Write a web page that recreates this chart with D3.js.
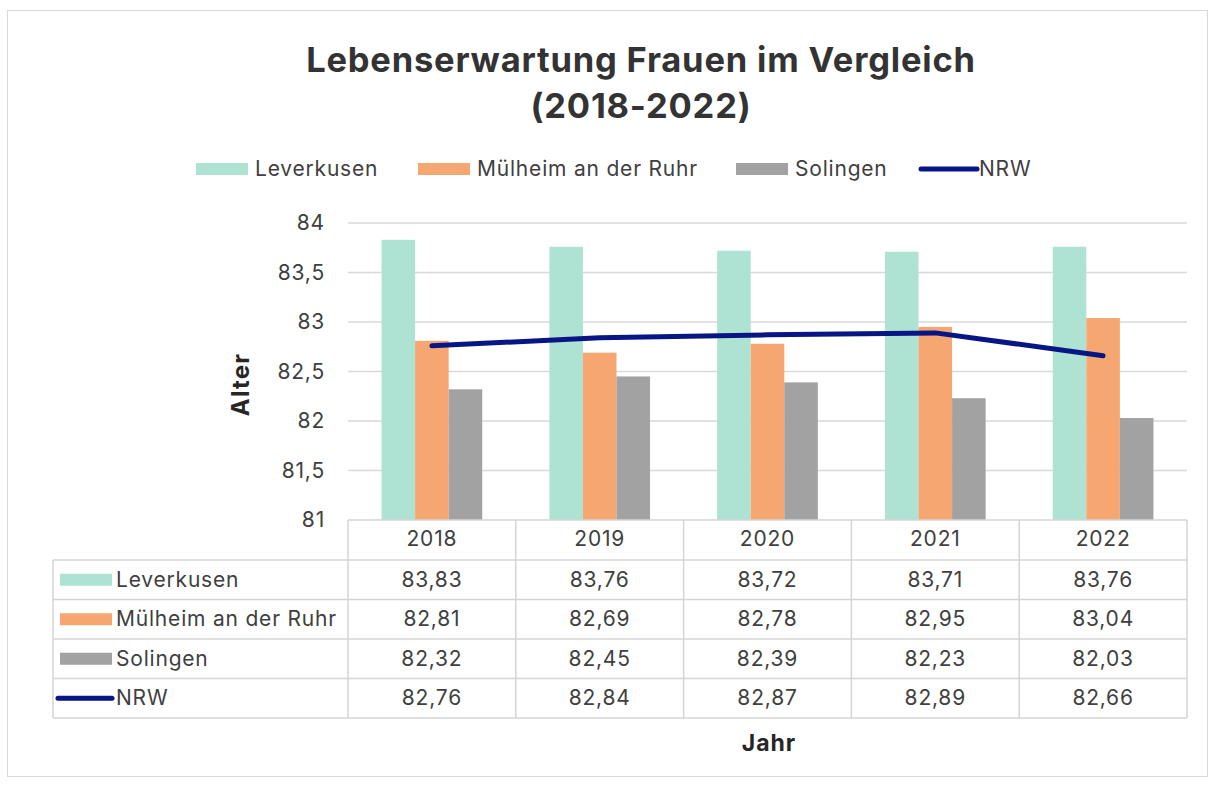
<!DOCTYPE html>
<html>
<head>
<meta charset="utf-8">
<script src="https://cdn.jsdelivr.net/npm/d3@7"></script>
<style>
  body { margin: 0; background: #fff; }
  svg text { font-family: "Inter", "Open Sans", sans-serif; letter-spacing: 0.8px; }
</style>
</head>
<body>
<div id="chart"></div>
<script>
// data
const years = ['2018', '2019', '2020', '2021', '2022']
const leverkusen = [83.83, 83.76, 83.72, 83.71, 83.76]
const muelheim = [82.81, 82.69, 82.78, 82.95, 83.04]
const solingen = [82.32, 82.45, 82.39, 82.23, 82.03]
const nrw = [82.76, 82.84, 82.87, 82.89, 82.66]
const yTicks = [81, 81.5, 82, 82.5, 83, 83.5, 84]

const barSeries = [
  { name: 'Leverkusen', values: leverkusen, color: '#aee3d3' },
  { name: 'Mülheim an der Ruhr', values: muelheim, color: '#f5a671' },
  { name: 'Solingen', values: solingen, color: '#a2a2a2' }
]
const lineSeries = { name: 'NRW', values: nrw, color: '#071585' }

const W = 1212, H = 787
const plot = { left: 348, right: 1187, top: 223, bottom: 520 }
const rowH = 39.5
const fs = 21 // body font size

const fmt = v => d3.format('.2f')(v).replace('.', ',')
const fmtTick = v => String(v).replace('.', ',')

const svg = d3.select('#chart').append('svg')
  .attr('width', W).attr('height', H)

// outer frame
svg.append('rect')
  .attr('x', 7.5).attr('y', 10.5)
  .attr('width', 1200).attr('height', 766)
  .attr('fill', '#fff').attr('stroke', '#d9d9d9')

// title
const title = svg.append('g')
  .attr('font-size', 34.5).attr('font-weight', 700).attr('fill', '#333')
  .attr('text-anchor', 'middle').style('letter-spacing', '1.6px')
title.append('text').attr('x', 641).attr('y', 72).text('Lebenserwartung Frauen im Vergleich')
title.append('text').attr('x', 641).attr('y', 118).text('(2018-2022)')

// scales
const x0 = d3.scaleBand().domain(years).range([plot.left, plot.right])
const bw = x0.bandwidth()
const x1 = d3.scaleBand().domain(barSeries.map(s => s.name))
  .range([bw * 0.2, bw * 0.8])
const y = d3.scaleLinear().domain([81, 84]).range([plot.bottom, plot.top])

// gridlines
svg.append('g')
  .selectAll('line').data(yTicks.slice(1)).join('line')
  .attr('x1', plot.left).attr('x2', plot.right)
  .attr('y1', d => y(d)).attr('y2', d => y(d))
  .attr('stroke', '#d9d9d9').attr('stroke-width', 1.5)

// y axis labels
const yAxis = svg.append('g')
  .attr('transform', `translate(${plot.left - 18},0)`)
  .call(d3.axisLeft(y).tickValues(yTicks).tickFormat(fmtTick).tickSize(0).tickPadding(5))
yAxis.select('.domain').remove()
yAxis.selectAll('text')
  .attr('font-size', fs).attr('fill', '#404040')
  .style('font-family', '"Inter", sans-serif')

svg.append('text')
  .attr('transform', `translate(249,${(plot.top + plot.bottom) / 2 + 13}) rotate(-90)`)
  .attr('text-anchor', 'middle')
  .attr('font-size', 24).attr('font-weight', 700).attr('fill', '#262626')
  .style('letter-spacing', '1.2px')
  .text('Alter')

// bars
barSeries.forEach(s => {
  svg.append('g')
    .selectAll('rect').data(s.values).join('rect')
    .attr('x', (d, i) => x0(years[i]) + x1(s.name))
    .attr('y', d => y(d))
    .attr('width', x1.bandwidth())
    .attr('height', d => y(81) - y(d))
    .attr('fill', s.color)
})

// NRW line
const line = d3.line()
  .x((d, i) => x0(years[i]) + bw / 2)
  .y(d => y(d))
svg.append('path')
  .attr('d', line(lineSeries.values))
  .attr('fill', 'none')
  .attr('stroke', lineSeries.color)
  .attr('stroke-width', 5)
  .attr('stroke-linecap', 'round')
  .attr('stroke-linejoin', 'round')

// legend
const legendItems = [
  { name: 'Leverkusen', color: barSeries[0].color, x: 196, type: 'bar' },
  { name: 'Mülheim an der Ruhr', color: barSeries[1].color, x: 418, type: 'bar' },
  { name: 'Solingen', color: barSeries[2].color, x: 736, type: 'bar' },
  { name: 'NRW', color: lineSeries.color, x: 921, type: 'line' }
]
const lg = svg.append('g').attr('transform', 'translate(0,169)')
legendItems.forEach(it => {
  if (it.type === 'bar') {
    lg.append('rect').attr('x', it.x).attr('y', -6).attr('width', 52).attr('height', 12).attr('fill', it.color)
  } else {
    lg.append('line').attr('x1', it.x).attr('x2', it.x + 56).attr('y1', 0).attr('y2', 0)
      .attr('stroke', it.color).attr('stroke-width', 5).attr('stroke-linecap', 'round')
  }
  lg.append('text')
    .attr('x', it.x + (it.type === 'bar' ? 59 : 58)).attr('y', 7)
    .attr('font-size', fs).attr('fill', '#404040')
    .text(it.name)
})

// data table
const tbl = svg.append('g')
const tableLeft = 53
const headerTop = plot.bottom
const rowsTop = headerTop + 40
const allRows = barSeries.concat([lineSeries])
const tableBottom = rowsTop + rowH * allRows.length
const gridColor = '#d4d4d4'

// header cells
tbl.append('line').attr('x1', plot.left).attr('x2', plot.right)
  .attr('y1', headerTop).attr('y2', headerTop).attr('stroke', gridColor).attr('stroke-width', 1.5)
years.concat(['end']).forEach((yr, i) => {
  const xx = i < years.length ? x0(yr) : plot.right
  tbl.append('line').attr('x1', xx).attr('x2', xx)
    .attr('y1', headerTop).attr('y2', tableBottom)
    .attr('stroke', gridColor).attr('stroke-width', 1.5)
})
tbl.selectAll('text.yr').data(years).join('text')
  .attr('class', 'yr')
  .attr('x', d => x0(d) + bw / 2).attr('y', headerTop + 26)
  .attr('text-anchor', 'middle').attr('font-size', fs).attr('fill', '#404040')
  .text(d => d)

// row lines
d3.range(allRows.length + 1).forEach(i => {
  const yy = rowsTop + i * rowH
  tbl.append('line').attr('x1', tableLeft).attr('x2', plot.right)
    .attr('y1', yy).attr('y2', yy).attr('stroke', gridColor).attr('stroke-width', 1.5)
})
tbl.append('line').attr('x1', tableLeft).attr('x2', tableLeft)
  .attr('y1', rowsTop).attr('y2', tableBottom).attr('stroke', gridColor).attr('stroke-width', 1.5)

allRows.forEach((s, r) => {
  const cy = rowsTop + r * rowH + rowH / 2
  if (s === lineSeries) {
    tbl.append('line').attr('x1', 58).attr('x2', 112).attr('y1', cy).attr('y2', cy)
      .attr('stroke', s.color).attr('stroke-width', 5).attr('stroke-linecap', 'round')
  } else {
    tbl.append('rect').attr('x', 60).attr('y', cy - 6).attr('width', 52).attr('height', 12).attr('fill', s.color)
  }
  tbl.append('text').attr('x', 116).attr('y', cy + 7)
    .attr('font-size', fs).attr('fill', '#404040').text(s.name)
  s.values.forEach((v, i) => {
    tbl.append('text')
      .attr('x', x0(years[i]) + bw / 2).attr('y', cy + 7)
      .attr('text-anchor', 'middle').attr('font-size', fs).attr('fill', '#404040')
      .text(fmt(v))
  })
})

// x axis title
svg.append('text')
  .attr('x', 769).attr('y', 751)
  .attr('text-anchor', 'middle')
  .attr('font-size', 23).attr('font-weight', 700).attr('fill', '#262626')
  .style('letter-spacing', '1px')
  .text('Jahr')
</script>
</body>
</html>
